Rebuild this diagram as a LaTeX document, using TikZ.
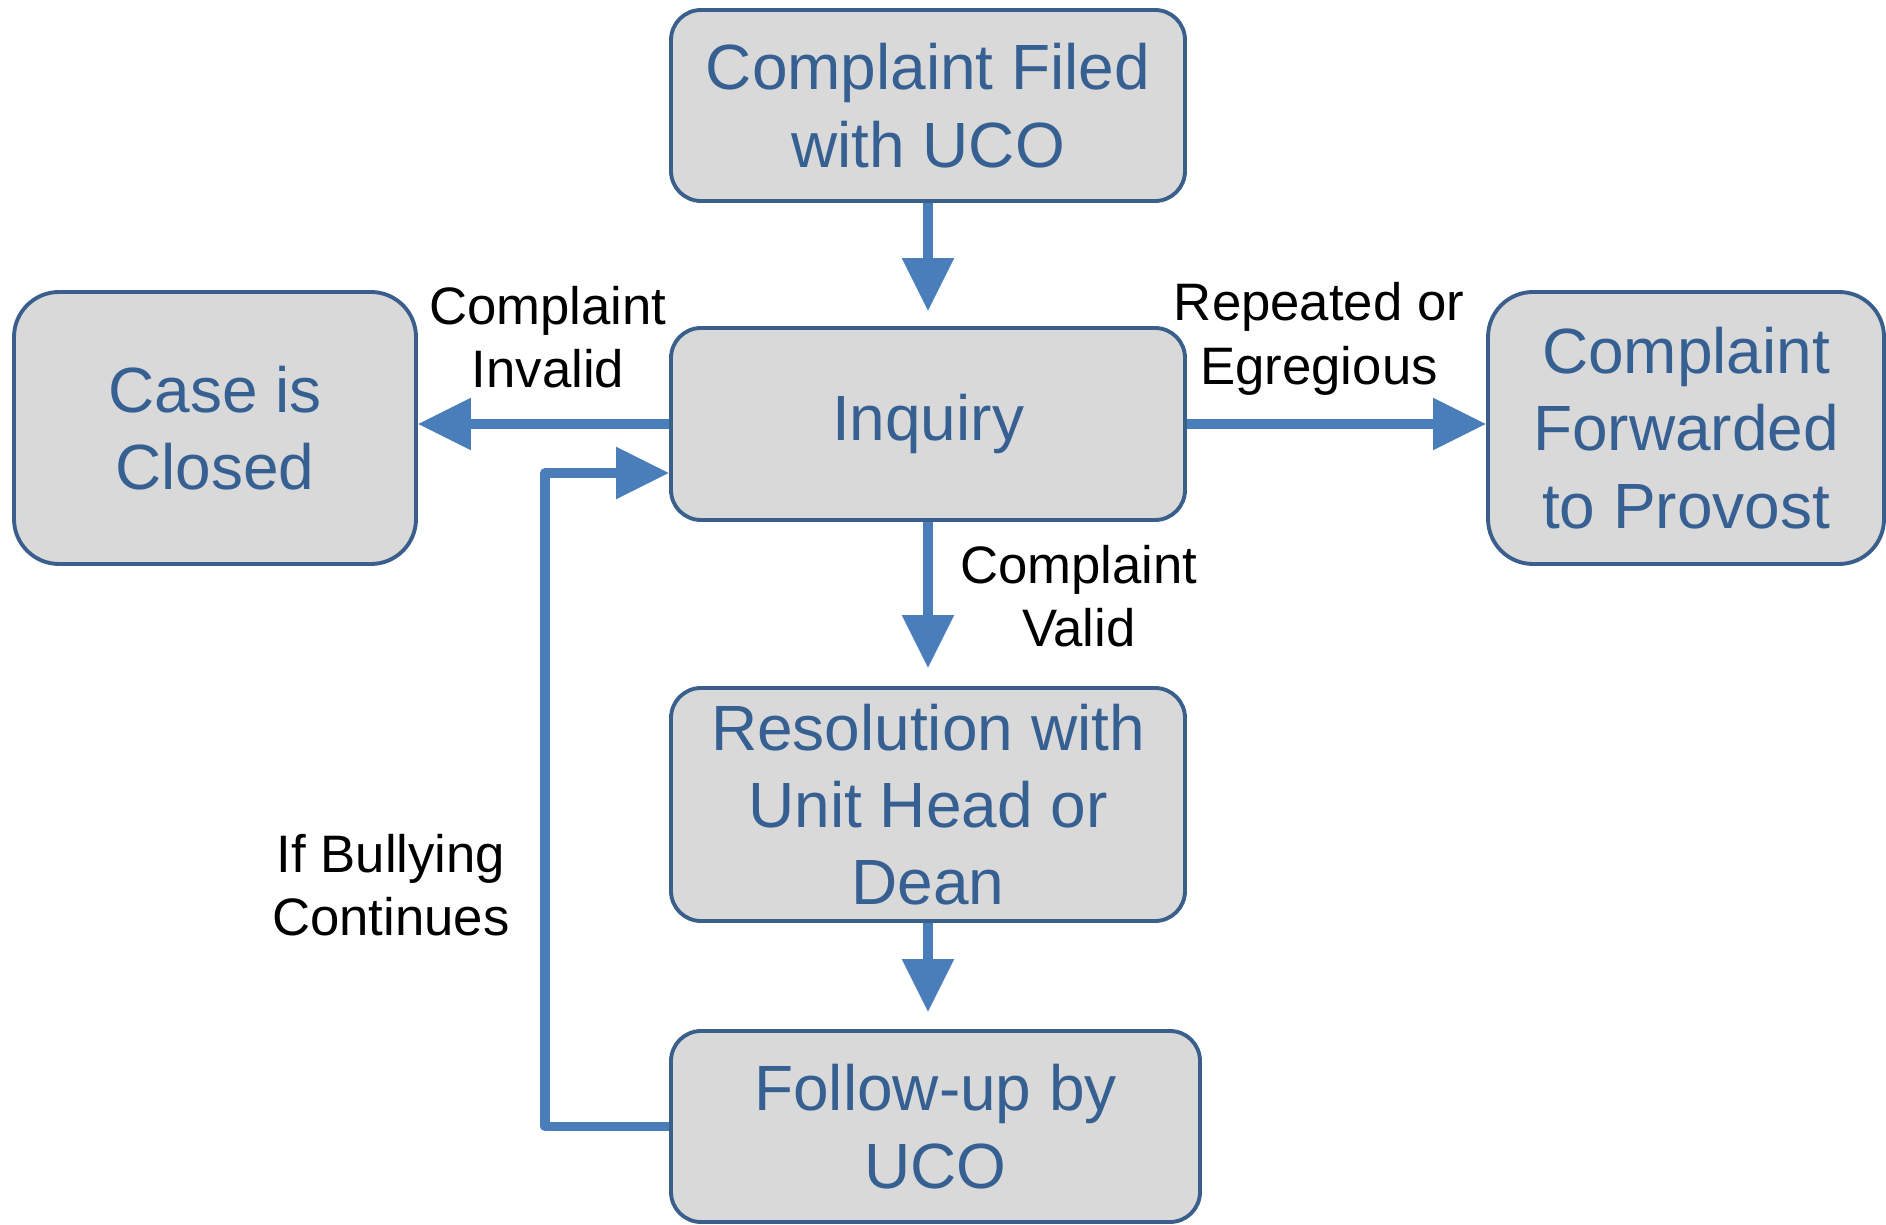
\documentclass[tikz,border=0pt]{standalone}
\usepackage{fontspec}
\setmainfont{Liberation Sans}
\usetikzlibrary{arrows.meta}

\definecolor{boxfill}{HTML}{D9D9D9}
\definecolor{boxline}{HTML}{3A5F8C}
\definecolor{boxtext}{HTML}{376092}
\definecolor{flowline}{HTML}{4A7EBB}

\begin{document}
\begin{tikzpicture}[
	stepbox/.style={draw=boxline, line width=1.1pt, fill=boxfill, rounded corners=0.3cm, align=center, text=boxtext, inner sep=0pt, font=\fontsize{18.2}{22}\selectfont},
	note/.style={align=center, text=black, font=\fontsize{15}{18}\selectfont},
	flow/.style={draw=flowline, line width=2.6pt, -{Triangle[length=0.53cm, width=0.5cm]}}]
	
	\useasboundingbox (0,0) rectangle (18.86,-12.25);
	
	\begin{scope}
	\node (filed) at (9.28,-1.055) [stepbox, minimum width=5.14cm, minimum height=1.91cm] {Complaint Filed\\with UCO};
	\end{scope}
	
	\begin{scope}
	\node (closed) at (2.15,-4.28) [stepbox, rounded corners=0.45cm, minimum width=4.02cm, minimum height=2.72cm] {Case is\\Closed};
	\node (inquiry) at (9.28,-4.24) [stepbox, minimum width=5.14cm, minimum height=1.92cm] {Inquiry};
	\node (provost) at (16.86,-4.28) [stepbox, rounded corners=0.45cm, minimum width=3.96cm, minimum height=2.72cm] {Complaint\\Forwarded\\to Provost};
	\node (invalid) at (5.48,-3.37) [note] {Complaint\\Invalid};
	\node (egregious) at (13.19,-3.39) [note] {Repeated or\\Egregious};
	\end{scope}
	
	\begin{scope}
	\node (valid) at (10.79,-5.96) [note] {Complaint\\Valid};
	\node (resolution) at (9.28,-8.045) [stepbox, minimum width=5.14cm, minimum height=2.33cm] {Resolution with\\Unit Head or\\Dean};
	\node (continues) at (3.91,-8.85) [note] {If Bullying\\Continues};
	\node (followup) at (9.355,-11.265) [stepbox, minimum width=5.29cm, minimum height=1.91cm] {Follow-up by\\UCO};
	\coordinate (loop) at (5.45,-11.265);
	\end{scope}
	
	\begin{scope}[line join=round]
	\draw[flow, shorten >=0.15cm] (filed) -- (inquiry);
	\draw[flow] (inquiry.west) -- (inquiry.west -| closed.east);
	\draw[flow] (inquiry.east) -- (inquiry.east -| provost.west);
	\draw[flow, shorten >=0.18cm] (inquiry) -- (resolution);
	\draw[flow, shorten >=0.17cm] (resolution.south) -- (resolution.south |- followup.north);
	\draw[flow] (followup.west) -- (loop) |- ([yshift=-0.49cm]inquiry.west);
	\end{scope}
	\end{tikzpicture}
\end{document}
